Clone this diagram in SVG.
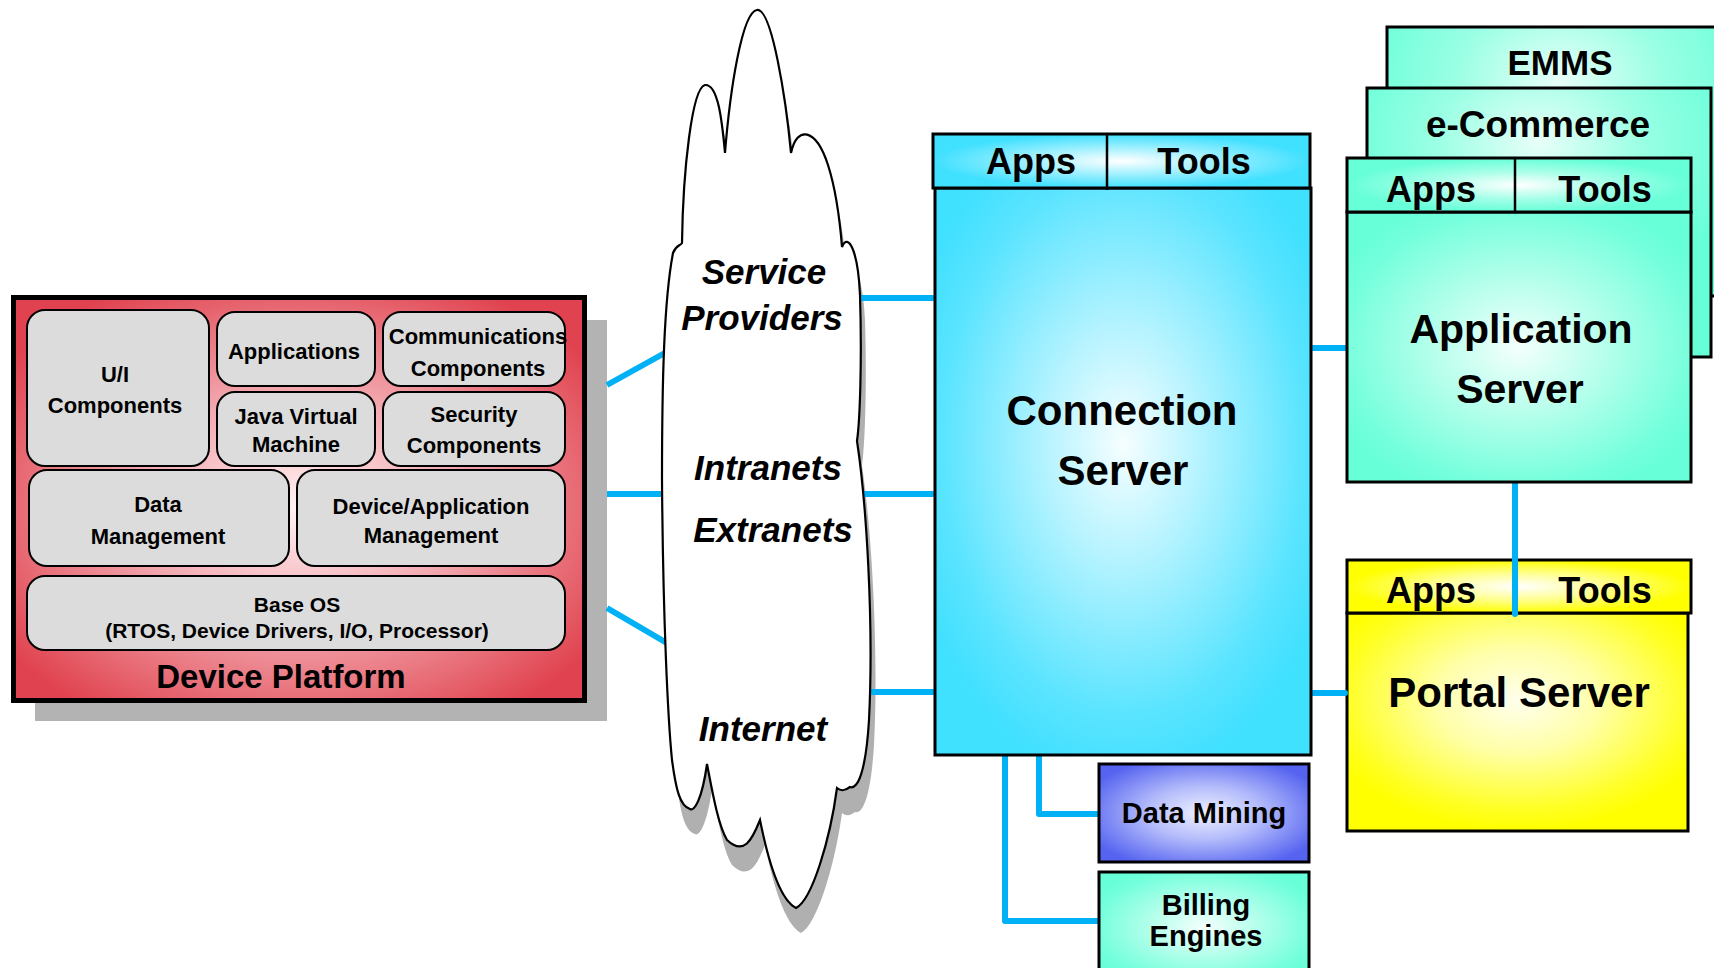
<svg xmlns="http://www.w3.org/2000/svg" width="1714" height="968" viewBox="0 0 1714 968">
  <defs>
    <radialGradient id="dpFill" cx="0.5" cy="0.52" r="0.62">
      <stop offset="0" stop-color="#fff2f3"/>
      <stop offset="0.45" stop-color="#f3aab1"/>
      <stop offset="1" stop-color="#e0434f"/>
    </radialGradient>
    <radialGradient id="csBody" cx="0.5" cy="0.45" r="0.6">
      <stop offset="0" stop-color="#f6feff"/>
      <stop offset="0.35" stop-color="#b4f3ff"/>
      <stop offset="0.8" stop-color="#5ae4ff"/>
      <stop offset="1" stop-color="#40e0ff"/>
    </radialGradient>
    <radialGradient id="csHead" cx="0.5" cy="0.5" r="0.5">
      <stop offset="0" stop-color="#ffffff"/>
      <stop offset="0.5" stop-color="#9ef0ff"/>
      <stop offset="1" stop-color="#40e0ff"/>
    </radialGradient>
    <radialGradient id="aquaBody" cx="0.5" cy="0.5" r="0.6">
      <stop offset="0" stop-color="#f4fffc"/>
      <stop offset="0.4" stop-color="#b8ffec"/>
      <stop offset="0.85" stop-color="#75ffdc"/>
      <stop offset="1" stop-color="#66ffd8"/>
    </radialGradient>
    <radialGradient id="aquaHead" cx="0.5" cy="0.5" r="0.5">
      <stop offset="0" stop-color="#ffffff"/>
      <stop offset="0.5" stop-color="#a8ffe8"/>
      <stop offset="1" stop-color="#66ffd8"/>
    </radialGradient>
    <radialGradient id="aquaTop" cx="0.5" cy="0.2" r="0.6">
      <stop offset="0" stop-color="#e8fff8"/>
      <stop offset="0.5" stop-color="#9affe4"/>
      <stop offset="1" stop-color="#66ffd8"/>
    </radialGradient>
    <radialGradient id="yellowBody" cx="0.5" cy="0.4" r="0.6">
      <stop offset="0" stop-color="#ffffee"/>
      <stop offset="0.4" stop-color="#ffffa8"/>
      <stop offset="0.85" stop-color="#ffff20"/>
      <stop offset="1" stop-color="#ffff00"/>
    </radialGradient>
    <radialGradient id="yellowHead" cx="0.5" cy="0.5" r="0.5">
      <stop offset="0" stop-color="#ffffff"/>
      <stop offset="0.5" stop-color="#ffff90"/>
      <stop offset="1" stop-color="#ffff00"/>
    </radialGradient>
    <radialGradient id="blueBody" cx="0.5" cy="0.5" r="0.6">
      <stop offset="0" stop-color="#eef0ff"/>
      <stop offset="0.45" stop-color="#b4bcfb"/>
      <stop offset="1" stop-color="#5563f0"/>
    </radialGradient>
    <path id="cloudShape" d="M725 153 C730 90 742 12 757 10 C772 8 786 100 791 153 C797 125 816 128 828 165 C836 190 840 222 842 247 C848 232 858 250 860 295 C862 360 860 420 857 441 C866 500 874 620 869 720 C866 770 858 790 850 787 C846 790 842 792 837 788 C830 840 812 900 796 908 C780 900 768 860 760 820 C752 840 744 856 727 840 C718 825 712 790 707 764 C702 800 694 812 690 809 C680 806 676 790 672 760 C668 720 663 620 662 480 C662 380 664 300 673 253 C676 245 680 246 682 243 C683 170 692 88 705 85 C718 84 722 120 725 153 Z"/>
    <style>
      .lbl { font-family: "Liberation Sans", Arial, Helvetica, sans-serif; font-weight: bold; text-anchor: middle; fill: #000; }
      .mod { fill: #dcdcdc; stroke: #000; stroke-width: 2; }
      .box { stroke: #000; stroke-width: 3; }
      .cloudtxt { font-family: "Liberation Sans", Arial, Helvetica, sans-serif; font-weight: bold; font-style: italic; font-size: 35px; text-anchor: middle; fill: #000; }
      .link { fill: none; stroke: #00b2f5; stroke-width: 6; stroke-linejoin: round; }
      .m { font-size: 22px; }
      .head { font-size: 36px; }
    </style>
  </defs>

  <!-- Device platform stack -->
  <g id="device-platform">
    <rect x="35" y="320" width="572" height="401" fill="#b3b3b3"/>
    <rect x="13.5" y="297.5" width="571" height="403" fill="url(#dpFill)" stroke="#000" stroke-width="5"/>
    <g id="ui-components">
      <rect class="mod" x="27" y="310" width="182" height="156" rx="18"/>
      <text class="lbl m" x="115" y="382">U/I</text>
      <text class="lbl m" x="115" y="413">Components</text>
    </g>
    <g id="applications">
      <rect class="mod" x="217" y="312" width="158" height="74" rx="18"/>
      <text class="lbl m" x="294" y="359">Applications</text>
    </g>
    <g id="communications-components">
      <rect class="mod" x="383" y="312" width="182" height="74" rx="18"/>
      <text class="lbl m" x="478" y="344">Communications</text>
      <text class="lbl m" x="478" y="376">Components</text>
    </g>
    <g id="java-virtual-machine">
      <rect class="mod" x="217" y="392" width="158" height="74" rx="18"/>
      <text class="lbl m" x="296" y="424">Java Virtual</text>
      <text class="lbl m" x="296" y="452">Machine</text>
    </g>
    <g id="security-components">
      <rect class="mod" x="383" y="392" width="182" height="74" rx="18"/>
      <text class="lbl m" x="474" y="422">Security</text>
      <text class="lbl m" x="474" y="453">Components</text>
    </g>
    <g id="data-management">
      <rect class="mod" x="29" y="470" width="260" height="96" rx="18"/>
      <text class="lbl m" x="158" y="512">Data</text>
      <text class="lbl m" x="158" y="544">Management</text>
    </g>
    <g id="device-application-management">
      <rect class="mod" x="297" y="470" width="268" height="96" rx="18"/>
      <text class="lbl m" x="431" y="514">Device/Application</text>
      <text class="lbl m" x="431" y="543">Management</text>
    </g>
    <g id="base-os">
      <rect class="mod" x="27" y="576" width="538" height="74" rx="18"/>
      <text class="lbl" font-size="21" x="297" y="612">Base OS</text>
      <text class="lbl" font-size="21" x="297" y="638">(RTOS, Device Drivers, I/O, Processor)</text>
    </g>
    <text class="lbl" font-size="33" x="281" y="688">Device Platform</text>
  </g>

  <!-- Portal server sits under the link coming down from the application server -->
  <g id="portal-server">
    <rect class="box" x="1347" y="613" width="341" height="218" fill="url(#yellowBody)"/>
    <rect class="box" x="1347" y="560" width="344" height="53" fill="url(#yellowHead)"/>
    <text class="lbl head" x="1431" y="603">Apps</text>
    <text class="lbl head" x="1605" y="603">Tools</text>
    <text class="lbl" font-size="42" x="1519" y="707">Portal Server</text>
  </g>

  <!-- drop shadow of the network cloud -->
  <use href="#cloudShape" transform="translate(5 25)" fill="#b0b0b0"/>

  <g id="connectors">
    <path class="link" d="M607 385 L672 349"/>
    <path class="link" d="M607 494 H672"/>
    <path class="link" d="M607 608 L672 646"/>
    <path class="link" d="M850 298 H940"/>
    <path class="link" d="M855 494 H940"/>
    <path class="link" d="M860 692 H940"/>
    <path class="link" d="M1305 348 H1352"/>
    <path class="link" d="M1305 693 H1345" stroke-linecap="round"/>
    <path class="link" d="M1515 478 V614" stroke-linecap="round"/>
    <path class="link" d="M1039 750 V814 H1104"/>
    <path class="link" d="M1005 750 V921 H1104"/>
  </g>

  <g id="network-cloud">
    <use href="#cloudShape" fill="#ffffff" stroke="#000" stroke-width="2.2"/>
    <text class="cloudtxt" x="764" y="284">Service</text>
    <text class="cloudtxt" x="762" y="330">Providers</text>
    <text class="cloudtxt" x="768" y="480">Intranets</text>
    <text class="cloudtxt" x="773" y="542">Extranets</text>
    <text class="cloudtxt" x="763" y="741">Internet</text>
  </g>

  <g id="connection-server">
    <rect class="box" x="935" y="188" width="376" height="567" fill="url(#csBody)"/>
    <rect class="box" x="933" y="134" width="377" height="54" fill="url(#csHead)"/>
    <line x1="1107" y1="134" x2="1107" y2="190" stroke="#000" stroke-width="2.5"/>
    <text class="lbl head" x="1031" y="174">Apps</text>
    <text class="lbl head" x="1204" y="174">Tools</text>
    <text class="lbl" font-size="42" x="1122" y="425">Connection</text>
    <text class="lbl" font-size="42" x="1123" y="485">Server</text>
  </g>

  <g id="emms">
    <rect class="box" x="1387" y="27" width="345" height="269" fill="url(#aquaTop)"/>
    <text class="lbl" font-size="35" x="1560" y="75">EMMS</text>
  </g>

  <g id="e-commerce">
    <rect class="box" x="1367" y="88" width="344" height="269" fill="url(#aquaTop)"/>
    <text class="lbl" font-size="37" x="1538" y="137">e-Commerce</text>
  </g>

  <g id="application-server">
    <rect class="box" x="1347" y="212" width="344" height="270" fill="url(#aquaBody)"/>
    <rect class="box" x="1347" y="158" width="344" height="54" fill="url(#aquaHead)"/>
    <line x1="1515" y1="158" x2="1515" y2="212" stroke="#000" stroke-width="2.5"/>
    <text class="lbl head" x="1431" y="202">Apps</text>
    <text class="lbl head" x="1605" y="202">Tools</text>
    <text class="lbl" font-size="41" x="1521" y="343">Application</text>
    <text class="lbl" font-size="41" x="1520" y="403">Server</text>
  </g>

  <g id="data-mining">
    <rect class="box" x="1099" y="764" width="210" height="98" fill="url(#blueBody)"/>
    <text class="lbl" font-size="29" x="1204" y="823">Data Mining</text>
  </g>

  <g id="billing-engines">
    <rect class="box" x="1099" y="872" width="210" height="110" fill="url(#aquaBody)"/>
    <text class="lbl" font-size="29" x="1206" y="915">Billing</text>
    <text class="lbl" font-size="29" x="1206" y="946">Engines</text>
  </g>
</svg>
